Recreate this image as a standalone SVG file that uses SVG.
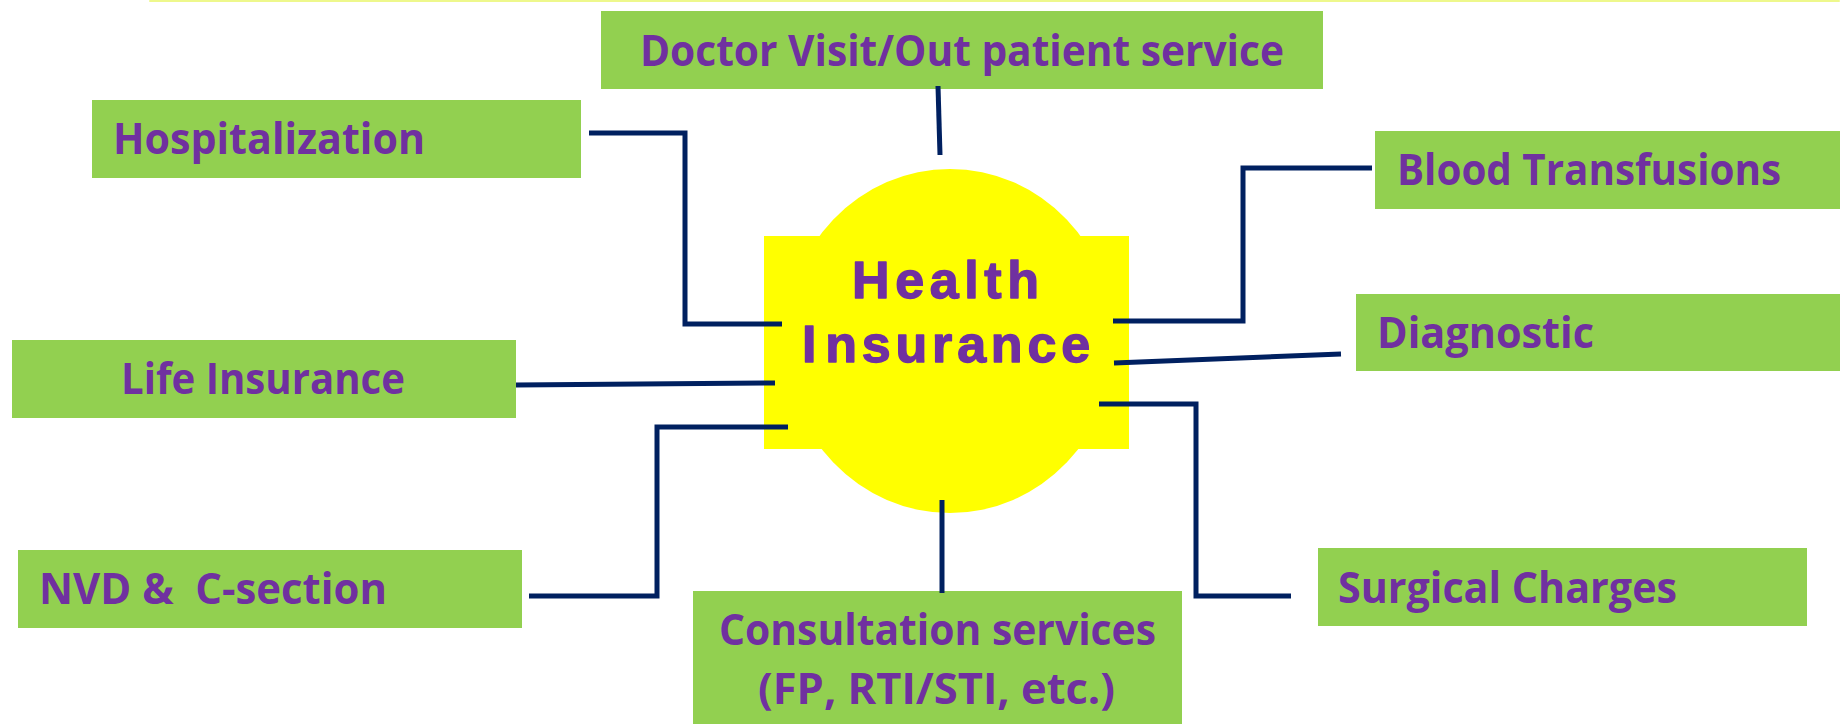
<svg xmlns="http://www.w3.org/2000/svg" width="1840" height="724" viewBox="0 0 1840 724">
<style>
.box{fill:#92D050}
.lbl{font-family:"Open Sans","Noto Sans","Liberation Sans",sans-serif;font-weight:bold;font-size:43px;fill:#7030A0}
.hub{font-family:"Liberation Sans",Arial,sans-serif;font-weight:bold;font-size:52px;fill:#7030A0;stroke:#7030A0;stroke-width:1.4;stroke-linejoin:round}
.conn{fill:none;stroke:#002060;stroke-width:5;stroke-linejoin:miter;stroke-linecap:butt}
</style>
<rect x="149" y="0" width="1691" height="2" rx="1" fill="#EEF88C"/>
<g id="center">
<ellipse cx="950" cy="341" rx="165" ry="172" fill="#FFFF00"/>
<rect x="764" y="236" width="365" height="213" fill="#FFFF00"/>
<text class="hub" x="852" y="298" letter-spacing="5.6">Health</text>
<text class="hub" x="802" y="362" letter-spacing="4.8">I<tspan dx="4">nsurance</tspan></text>
</g>
<g id="doctor">
<rect class="box" x="601" y="11" width="722" height="78"/>
<text class="lbl" x="640" y="66" textLength="644" lengthAdjust="spacingAndGlyphs">Doctor Visit/Out patient service</text>
</g>
<g id="hospitalization">
<rect class="box" x="92" y="100" width="489" height="78"/>
<text class="lbl" x="113" y="154" textLength="312" lengthAdjust="spacingAndGlyphs">Hospitalization</text>
</g>
<g id="blood">
<rect class="box" x="1375" y="131" width="465" height="78"/>
<text class="lbl" x="1397" y="185" textLength="384" lengthAdjust="spacingAndGlyphs">Blood Transfusions</text>
</g>
<g id="diagnostic">
<rect class="box" x="1356" y="294" width="484" height="77"/>
<text class="lbl" x="1377" y="348" textLength="217" lengthAdjust="spacingAndGlyphs">Diagnostic</text>
</g>
<g id="life">
<rect class="box" x="12" y="340" width="504" height="78"/>
<text class="lbl" x="121" y="394" textLength="284" lengthAdjust="spacingAndGlyphs">Life Insurance</text>
</g>
<g id="nvd">
<rect class="box" x="18" y="550" width="504" height="78"/>
<text class="lbl" x="39" y="604" textLength="348" lengthAdjust="spacingAndGlyphs" xml:space="preserve">NVD &amp;  C-section</text>
</g>
<g id="consultation">
<rect class="box" x="693" y="591" width="489" height="133"/>
<text class="lbl" x="719" y="645" textLength="437" lengthAdjust="spacingAndGlyphs">Consultation services</text>
<text class="lbl" x="758" y="704" textLength="357" lengthAdjust="spacingAndGlyphs">(FP, RTI/STI, etc.)</text>
</g>
<g id="surgical">
<rect class="box" x="1318" y="548" width="489" height="78"/>
<text class="lbl" x="1338" y="603" textLength="339" lengthAdjust="spacingAndGlyphs">Surgical Charges</text>
</g>
<g id="connectors">
<path class="conn" d="M938 86 L940 155"/>
<path class="conn" d="M589 133 H685 V324 H782"/>
<path class="conn" d="M1113 321 H1243 V168 H1372"/>
<path class="conn" d="M1114 363 L1341 354"/>
<path class="conn" d="M516 385 L775 383"/>
<path class="conn" d="M788 427 H657 V596 H529"/>
<path class="conn" d="M942 500 V593"/>
<path class="conn" d="M1099 404 H1196 V596 H1291"/>
</g>
</svg>
